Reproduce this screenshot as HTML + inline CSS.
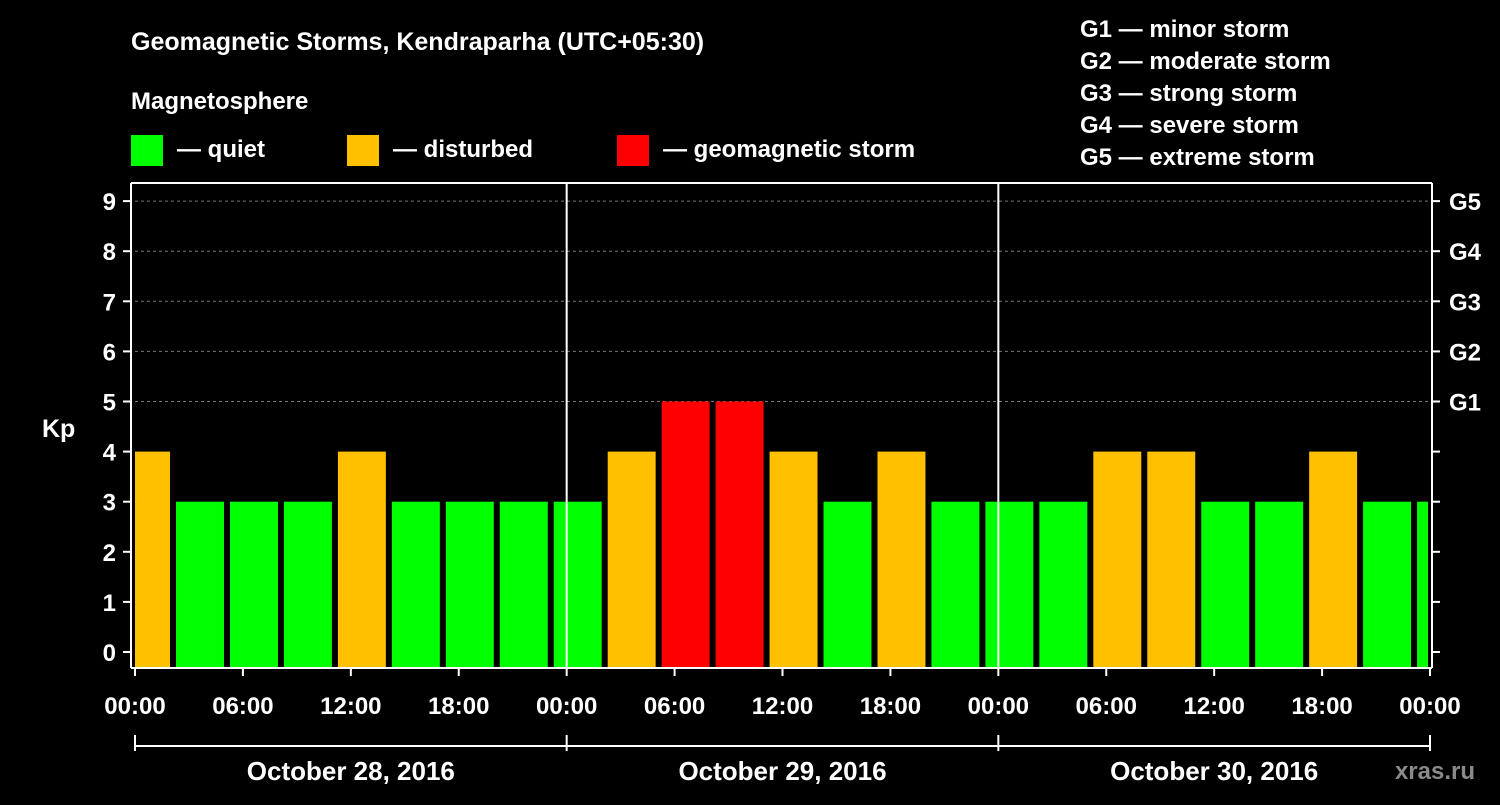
<!DOCTYPE html>
<html><head><meta charset="utf-8"><style>
body{margin:0;background:#000;}
svg text{font-family:"Liberation Sans",Arial,sans-serif;font-weight:bold;fill:#fff;}
</style></head><body>
<svg width="1500" height="800" xmlns="http://www.w3.org/2000/svg">
<rect width="1500" height="800" fill="#000"/>
<text x="131" y="50" font-size="25">Geomagnetic Storms, Kendraparha (UTC+05:30)</text>
<text x="131" y="109" font-size="24">Magnetosphere</text>
<g><rect x="131" y="135" width="32" height="31" fill="#00ff00"/><text x="177" y="157" font-size="24">— quiet</text></g>
<g><rect x="347" y="135" width="32" height="31" fill="#ffc000"/><text x="393" y="157" font-size="24">— disturbed</text></g>
<g><rect x="617" y="135" width="32" height="31" fill="#ff0000"/><text x="663" y="157" font-size="24">— geomagnetic storm</text></g>
<g font-size="24">
<text x="1080" y="37">G1 — minor storm</text>
<text x="1080" y="69">G2 — moderate storm</text>
<text x="1080" y="101">G3 — strong storm</text>
<text x="1080" y="133">G4 — severe storm</text>
<text x="1080" y="165">G5 — extreme storm</text>
</g>
<g id="grid"></g>
<g id="bars"></g>
<g id="axes"></g>
<text x="1475" y="779" font-size="24" fill="#888" style="fill:#8a8a8a" text-anchor="end">xras.ru</text>
</svg>
<script>
const kpValues=[4,3,3,3,4,3,3,3,3,4,5,5,4,3,4,3,3,3,4,4,3,3,4,3,3];
const yTicks=[0,1,2,3,4,5,6,7,8,9];
const gLabels=["G1","G2","G3","G4","G5"];
const xLabels=["00:00","06:00","12:00","18:00","00:00","06:00","12:00","18:00","00:00","06:00","12:00","18:00","00:00"];
const dates=["October 28, 2016","October 29, 2016","October 30, 2016"];
const NS="http://www.w3.org/2000/svg";
const X0=135,X1=1430,TOP=183,BOT=668;
const pxPerHour=(X1-X0)/72;
const y=v=>652-v*50.1;
const x=h=>X0+h*pxPerHour;
function el(t,a,p){const e=document.createElementNS(NS,t);for(const k in a)e.setAttribute(k,a[k]);p.appendChild(e);return e;}
const grid=document.getElementById('grid'),bars=document.getElementById('bars'),axes=document.getElementById('axes');
for(let v=5;v<=9;v++){
 const l=el('line',{x1:X0,x2:X1,y1:y(v),y2:y(v),stroke:'#777','stroke-dasharray':'3,3'},grid);
 
 
}
kpValues.forEach((v,i)=>{
 const start=-0.83+3*i; // hours
 let l=x(start)+2,r=x(start+3)-4;
 l=Math.max(l,X0);r=Math.min(r,X1-2);
 const c=v>=5?'#ff0000':v>=4?'#ffc000':'#00ff00';
 const b=el('rect',{x:l,y:y(v),width:r-l,height:BOT-y(v),fill:c},bars);
 
 
});
// frame
const f=el('path',{d:`M131 ${TOP} H1432 M131 ${TOP} V${BOT} M1432 ${TOP} V${BOT} M131 ${BOT} H1432`,stroke:'#fff','stroke-width':2,fill:'none'},axes);


[1,2].forEach(d=>{const l=el('line',{x1:x(24*d),x2:x(24*d),y1:TOP,y2:BOT,stroke:'#fff','stroke-width':2},axes);
 
 });
yTicks.forEach(v=>{
 el('line',{x1:123,x2:131,y1:y(v),y2:y(v),stroke:'#fff','stroke-width':2},axes);
 el('line',{x1:1432,x2:1440,y1:y(v),y2:y(v),stroke:'#fff','stroke-width':2},axes);
 const t=el('text',{x:116,y:y(v)+9,'font-size':24,'text-anchor':'end'},axes);t.textContent=v;
 
 
});
gLabels.forEach((g,i)=>{const t=el('text',{x:1449,y:y(5+i)+9,'font-size':24},axes);t.textContent=g;
 
 });
const kp=el('text',{x:42,y:437,'font-size':25},axes);kp.textContent='Kp';


xLabels.forEach((s,i)=>{
 const xx=x(6*i);
 el('line',{x1:xx,x2:xx,y1:BOT,y2:BOT+8,stroke:'#fff','stroke-width':2},axes);
 const t=el('text',{x:xx,y:714,'font-size':24,'text-anchor':'middle'},axes);t.textContent=s;
 
 
});
el('line',{x1:X0,x2:X1,y1:746,y2:746,stroke:'#fff','stroke-width':2},axes);
[0,1,2,3].forEach(d=>el('line',{x1:x(24*d),x2:x(24*d),y1:735,y2:751,stroke:'#fff','stroke-width':2},axes));
dates.forEach((s,i)=>{const t=el('text',{x:x(24*i+12),y:780,'font-size':26,'text-anchor':'middle'},axes);t.textContent=s;
 
 });
</script>
</body></html>
